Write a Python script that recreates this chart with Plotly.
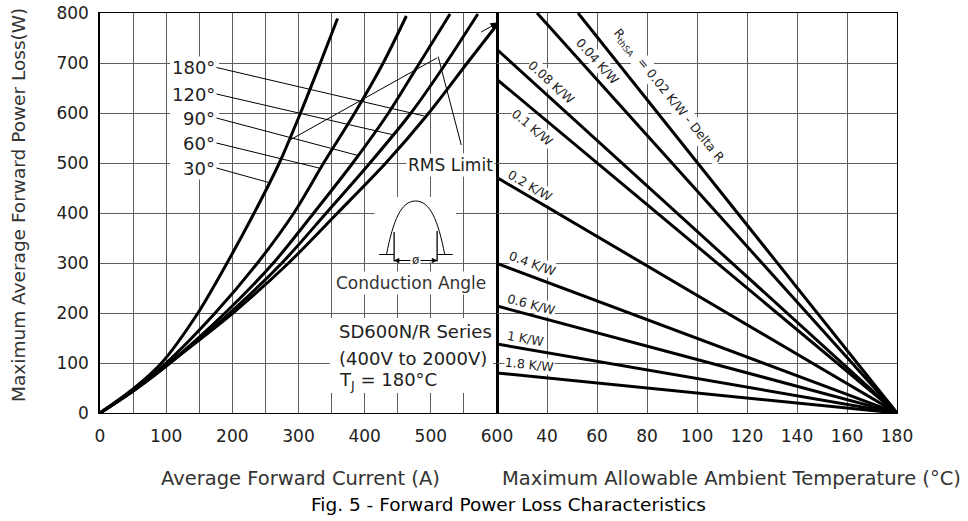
import plotly.graph_objects as go

# ---------------- data ----------------
# Left panel: average forward current (A) -> max. average forward power loss (W)
i_30 = [0, 50, 93, 148, 192, 233, 271, 303, 333, 359]
p_30 = [0, 48, 100, 200, 300, 400, 500, 600, 700, 789]
i_60 = [0, 50, 100, 174, 238, 293, 338, 385, 428, 463]
p_60 = [0, 46, 100, 200, 300, 400, 500, 600, 700, 794]
i_90 = [0, 50, 105, 189, 262, 323, 382, 436, 483, 529]
p_90 = [0, 44, 100, 200, 300, 400, 500, 600, 700, 798]
i_120 = [0, 50, 106, 196, 275, 342, 408, 470, 523, 571]
p_120 = [0, 44, 100, 200, 300, 400, 500, 600, 700, 798]
i_180 = [0, 50, 105, 201, 285, 359, 432, 497, 555, 602]
p_180 = [0, 44, 100, 200, 300, 400, 500, 600, 700, 780]

angle_names = ["30°", "60°", "90°", "120°", "180°"]
angle_label_p = [490, 540, 590, 638, 691]
angle_leader_end_i = [255, 331, 390, 441, 490]
angle_leader_end_p = [461, 490, 515, 557, 594]

# Right panel: heatsink thermal resistance lines (ambient temp degC -> power W)
rth_names = ["0.02", "0.04", "0.08", "0.1", "0.2", "0.4", "0.6", "1", "1.8"]
rth_t_start = [52.4, 36, 20, 20, 20, 20, 20, 20, 20]
rth_p_start = [800, 800, 727, 667, 471, 299, 214, 138, 80]
rth_t_end = 180
rth_p_end = 0
rth_label_t = [88.5, 60.3, 41.9, 34.2, 33.2, 34.2, 33.9, 31.4, 32.8]
rth_label_p = [635, 703, 661, 571, 456, 299, 218, 149, 98]
rth_label_angle = [51, 48, 42, 40, 30, 20, 15, 10, 6]

# tick labels
left_x_ticks = [0, 100, 200, 300, 400, 500, 600]
left_x_minor = [50, 150, 250, 350, 450, 550]
right_x_ticks = [40, 60, 80, 100, 120, 140, 160, 180]
y_ticks = [0, 100, 200, 300, 400, 500, 600, 700, 800]

FONT = "DejaVu Sans"
GRID = "#5e5e5e"

fig = go.Figure()

curves = [(i_30, p_30), (i_60, p_60), (i_90, p_90), (i_120, p_120), (i_180, p_180)]
for name, (xs, ys) in zip(angle_names, curves):
    fig.add_trace(go.Scatter(x=xs, y=ys, mode="lines", name=name,
                             line=dict(color="black", width=3, shape="spline", smoothing=0.8),
                             xaxis="x", yaxis="y", hoverinfo="skip"))

for name, t0, p0 in zip(rth_names, rth_t_start, rth_p_start):
    fig.add_trace(go.Scatter(x=[t0, rth_t_end], y=[p0, rth_p_end], mode="lines", name=name + " K/W",
                             line=dict(color="black", width=3),
                             xaxis="x2", yaxis="y2", hoverinfo="skip"))

dom_split = 397 / 797

fig.update_layout(
    width=968, height=521,
    margin=dict(l=100, r=71, t=13, b=108, autoexpand=False),
    plot_bgcolor="white", paper_bgcolor="white",
    showlegend=False,
    font=dict(family=FONT, color="#222222"),
    xaxis=dict(domain=[0, dom_split], range=[0, 600], automargin=False,
               tickvals=left_x_ticks,
               minor=dict(tickvals=left_x_minor, showgrid=True, gridcolor=GRID, gridwidth=1, ticks=""),
               showgrid=True, gridcolor=GRID, gridwidth=1, zeroline=False,
               showline=True, linecolor="black", linewidth=1, mirror=True,
               ticks="", tickfont=dict(size=17, color="#222"), ticklabelstandoff=8,
               ticklabeloverflow="allow"),
    xaxis2=dict(domain=[dom_split, 1], range=[20, 180], anchor="y2", automargin=False,
                tickvals=right_x_ticks,
                showgrid=True, gridcolor=GRID, gridwidth=1, zeroline=False,
                showline=True, linecolor="black", linewidth=1, mirror=True,
                ticks="", tickfont=dict(size=17, color="#222"), ticklabelstandoff=8,
                ticklabeloverflow="allow"),
    yaxis=dict(range=[0, 800], tickvals=y_ticks, anchor="x", automargin=False,
               showgrid=True, gridcolor=GRID, gridwidth=1, zeroline=False,
               showline=True, linecolor="black", linewidth=1.5, mirror=True,
               ticks="", tickfont=dict(size=17, color="#222"), ticklabelstandoff=6,
               ticklabeloverflow="allow"),
    yaxis2=dict(range=[0, 800], tickvals=y_ticks, anchor="x2", matches="y", automargin=False,
                showticklabels=False,
                showgrid=True, gridcolor=GRID, gridwidth=1, zeroline=False,
                showline=True, linecolor="black", linewidth=1, mirror=True, ticks=""),
)

shapes = []
# white masks over the grid (between gridlines and traces)
mask_boxes = [(106, 180, 472, 710),   # angle labels column
              (415, 538, 302, 432),   # inset waveform
              (347, 594, 40, 190)]    # series text block
for x0, x1, y0, y1 in mask_boxes:
    shapes.append(dict(type="rect", xref="x", yref="y", x0=x0, x1=x1, y0=y0, y1=y1,
                       fillcolor="white", line=dict(width=0), layer="between"))

thin = dict(color="black", width=1)

# leader lines from angle labels to curves
for p0, xe, ye in zip(angle_label_p, angle_leader_end_i, angle_leader_end_p):
    shapes.append(dict(type="line", xref="x", yref="y", x0=176, y0=p0, x1=xe, y1=ye, line=thin))

# RMS limit leader lines and the small arrow at the end of the 180 deg curve
rms_lines = [((546, 536), (511, 713)), ((509, 710), (287, 546)), ((576, 762), (598, 778))]
for (xa, ya), (xb, yb) in rms_lines:
    shapes.append(dict(type="line", xref="x", yref="y", x0=xa, y0=ya, x1=xb, y1=yb, line=thin))
shapes.append(dict(type="path", xref="x", yref="y", path="M 600,780 L 593.8,770 L 590.2,778.8 Z",
                   fillcolor="black", line=dict(color="black", width=1)))

# inset: conduction-angle waveform sketch
shapes.append(dict(type="path", xref="x", yref="y",
                   path="M 433,317 C 443,385 455,424 477,424 C 499,424 511,385 521,317",
                   line=thin))
for xa, xb in [(422, 444.5), (509.5, 533)]:
    shapes.append(dict(type="line", xref="x", yref="y", x0=xa, x1=xb, y0=317, y1=317, line=thin))
for xv, ytop in [(444.5, 362), (509.5, 364)]:
    shapes.append(dict(type="line", xref="x", yref="y", x0=xv, x1=xv, y0=303, y1=ytop,
                       line=dict(color="black", width=1.3)))
# dimension line with arrowheads
shapes.append(dict(type="line", xref="x", yref="y", x0=444.5, x1=509.5, y0=305, y1=305, line=thin))
shapes.append(dict(type="path", xref="x", yref="y", path="M 444.5,305 L 452,309.5 L 452,300.5 Z",
                   fillcolor="black", line=dict(color="black", width=0.5)))
shapes.append(dict(type="path", xref="x", yref="y", path="M 509.5,305 L 502,309.5 L 502,300.5 Z",
                   fillcolor="black", line=dict(color="black", width=0.5)))
fig.update_layout(shapes=shapes)

ann = []
for name, p in zip(angle_names, angle_label_p):
    ann.append(dict(x=176, y=p, xref="x", yref="y", text=name, showarrow=False,
                    xanchor="right", yanchor="middle", font=dict(size=18, color="#222"),
                    bgcolor="white", borderpad=0))

ann.append(dict(x=529, y=496, xref="x", yref="y", text="RMS Limit", showarrow=False,
                xanchor="center", font=dict(size=17, color="#222"), bgcolor="white", borderpad=1))
ann.append(dict(x=477, y=306, xref="x", yref="y", text="ø", showarrow=False,
                font=dict(size=12, color="#222"), bgcolor="white", borderpad=1))
ann.append(dict(x=470, y=261, xref="x", yref="y", text="Conduction Angle", showarrow=False,
                xanchor="center", font=dict(size=17, color="#333"), bgcolor="white", borderpad=1))
block_lines = ["SD600N/R Series", "(400V to 2000V)", "T<sub>J</sub> = 180°C"]
block_p = [163, 110, 64]
for txt, p in zip(block_lines, block_p):
    ann.append(dict(x=358, y=p, xref="x", yref="y", text=txt, showarrow=False,
                    xanchor="left", font=dict(size=18, color="#222")))

for name, t, p, a in zip(rth_names, rth_label_t, rth_label_p, rth_label_angle):
    if name == "0.02":
        txt = "R<sub>thSA</sub>  = 0.02 K/W - Delta R"
    else:
        txt = name + " K/W"
    ann.append(dict(x=t, y=p, xref="x2", yref="y2", text=txt, showarrow=False,
                    xanchor="center", yanchor="middle",
                    textangle=a, font=dict(size=12.5, color="#222"),
                    bgcolor="white", borderpad=0))

# axis titles and figure title (paper coords = plot area)
ann.append(dict(x=(300 - 100) / 797, y=(413 - 478) / 400, xref="paper", yref="paper",
                xanchor="center", yanchor="middle",
                text="Average Forward Current (A)", showarrow=False,
                font=dict(size=19.5, color="#333")))
ann.append(dict(x=(731 - 100) / 797, y=(413 - 478) / 400, xref="paper", yref="paper",
                xanchor="center", yanchor="middle",
                text="Maximum Allowable Ambient Temperature (°C)", showarrow=False,
                font=dict(size=19.5, color="#333")))
ann.append(dict(x=(508 - 100) / 797, y=(413 - 504) / 400, xref="paper", yref="paper",
                xanchor="center", yanchor="middle",
                text="Fig. 5 - Forward Power Loss Characteristics", showarrow=False,
                font=dict(size=18.5, color="black")))
ann.append(dict(x=(18 - 100) / 797, y=(413 - 205) / 400, xref="paper", yref="paper",
                xanchor="center", yanchor="middle",
                text="Maximum Average Forward Power Loss(W)", showarrow=False,
                textangle=-90, font=dict(size=18.5, color="#333")))

fig.update_layout(annotations=ann)

fig.write_html("out.html",
               config={"displayModeBar": False},
               post_script="document.body.style.margin='0';document.body.style.overflow='hidden';")
